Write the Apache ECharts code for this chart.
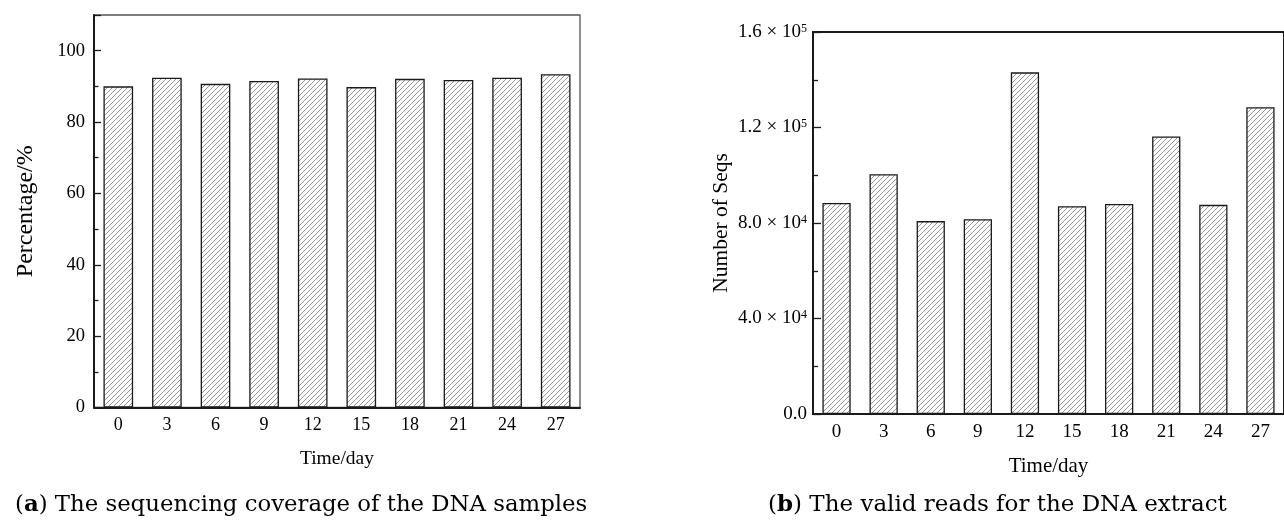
<!DOCTYPE html>
<html>
<head>
<meta charset="utf-8">
<style>
  html, body { margin: 0; padding: 0; background: #fff; }
  #chart { width: 1284px; height: 522px; }
</style>
<script src="https://cdn.jsdelivr.net/npm/echarts@6/dist/echarts.min.js"></script>
</head>
<body>
<div id="chart"></div>
<script>
const days = ['0', '3', '6', '9', '12', '15', '18', '21', '24', '27'];
const coverage = [90.0, 92.4, 90.7, 91.5, 92.2, 89.8, 92.1, 91.8, 92.4, 93.4];
const validReads = [88400, 100400, 80800, 81600, 143100, 87000, 88000, 116200, 87600, 128500];
const readsTickValues = [0, 40000, 80000, 120000, 160000];
const readsTickLabels = ['0.0', '4.0 × 10{sup|4}', '8.0 × 10{sup|4}', '1.2 × 10{sup|5}', '1.6 × 10{sup|5}'];

const serif = '"Liberation Serif", "Times New Roman", serif';
const captionFont = '"DejaVu Serif", serif';
const ink = '#1a1a1a';

// diagonal hatch used to fill the bars
const hatch = document.createElement('canvas');
hatch.width = hatch.height = 5;
const hctx = hatch.getContext('2d');
hctx.strokeStyle = '#7c7c7c';
hctx.lineWidth = 0.8;
hctx.beginPath();
hctx.moveTo(0, 5); hctx.lineTo(5, 0);
hctx.moveTo(-1, 1); hctx.lineTo(1, -1);
hctx.moveTo(4, 6); hctx.lineTo(6, 4);
hctx.stroke();

const barStyle = {
  color: { image: hatch, repeat: 'repeat' },
  borderColor: ink,
  borderWidth: 1.3
};

const catAxis = (grid, nameSize, nameGap, labelSize) => ({
  type: 'category',
  gridIndex: grid,
  data: days,
  position: 'bottom',
  name: 'Time/day',
  nameLocation: 'middle',
  nameGap: nameGap,
  nameTextStyle: { fontFamily: serif, fontSize: nameSize, color: '#000' },
  axisLine: { lineStyle: { color: ink, width: 2 } },
  axisTick: { inside: true, alignWithLabel: true, length: 7, lineStyle: { color: ink, width: 1.3 } },
  axisLabel: { fontFamily: serif, fontSize: labelSize, color: '#000', margin: 9, interval: 0 }
});

// second axis on each grid only draws the short ticks between the bars
const boundaryTicks = grid => ({
  type: 'category',
  gridIndex: grid,
  data: days,
  position: 'bottom',
  axisLine: { show: false },
  axisLabel: { show: false },
  axisTick: { inside: true, alignWithLabel: false, length: 4, interval: 0, lineStyle: { color: ink, width: 1.3 } }
});

const chart = echarts.init(document.getElementById('chart'));
chart.setOption({
  backgroundColor: '#fff',
  animation: false,
  grid: [
    { left: 94, top: 15, width: 486, height: 392.5, show: true, borderColor: '#555', borderWidth: 1.3 },
    { left: 813, top: 32, width: 474, height: 382, show: true, borderColor: ink, borderWidth: 2 }
  ],
  xAxis: [
    catAxis(0, 19.5, 41, 18),
    boundaryTicks(0),
    catAxis(1, 21, 42, 19),
    boundaryTicks(1)
  ],
  yAxis: [
    {
      type: 'value', gridIndex: 0, min: 0, max: 110, interval: 20,
      name: 'Percentage/%', nameLocation: 'middle', nameGap: 56,
      nameTextStyle: { fontFamily: serif, fontSize: 24, color: '#000' },
      axisLine: { show: true, lineStyle: { color: ink, width: 2 } },
      axisTick: { show: true, inside: true, length: 7, lineStyle: { color: ink, width: 1.3 } },
      minorTick: { show: true, splitNumber: 2, length: 4.5, lineStyle: { color: ink, width: 1.3 } },
      axisLabel: { fontFamily: serif, fontSize: 18.5, color: '#000', margin: 9, showMaxLabel: false },
      splitLine: { show: false }
    },
    {
      type: 'value', gridIndex: 1, min: 0, max: 160000, interval: 40000,
      name: 'Number of Seqs', nameLocation: 'middle', nameGap: 81,
      nameTextStyle: { fontFamily: serif, fontSize: 21.5, color: '#000' },
      axisLine: { show: true, lineStyle: { color: ink, width: 2 } },
      axisTick: { show: true, inside: true, length: 8, lineStyle: { color: ink, width: 1.3 } },
      minorTick: { show: true, splitNumber: 2, length: 5, lineStyle: { color: ink, width: 1.3 } },
      axisLabel: {
        fontFamily: serif, fontSize: 19, color: '#000', margin: 6,
        formatter: v => {
          const i = readsTickValues.indexOf(v);
          return i < 0 ? '' : readsTickLabels[i];
        },
        rich: {
          sup: { fontFamily: serif, fontSize: 12, color: '#000', verticalAlign: 'top', lineHeight: 12 }
        }
      },
      splitLine: { show: false }
    }
  ],
  series: [
    { type: 'bar', xAxisIndex: 0, yAxisIndex: 0, data: coverage, barWidth: '61%', itemStyle: barStyle },
    { type: 'bar', xAxisIndex: 2, yAxisIndex: 1, data: validReads, barWidth: '60%', itemStyle: barStyle }
  ],
  graphic: [
    {
      type: 'text', left: 15, top: 494,
      style: {
        text: '({b|a}) The sequencing coverage of the DNA samples',
        font: '22.8px ' + captionFont, fill: '#000',
        rich: { b: { fontFamily: captionFont, fontSize: 22.8, fontWeight: 'bold', fill: '#000' } }
      }
    },
    {
      type: 'text', left: 768, top: 494,
      style: {
        text: '({b|b}) The valid reads for the DNA extract',
        font: '23px ' + captionFont, fill: '#000',
        rich: { b: { fontFamily: captionFont, fontSize: 23, fontWeight: 'bold', fill: '#000' } }
      }
    }
  ]
});
</script>
</body>
</html>
